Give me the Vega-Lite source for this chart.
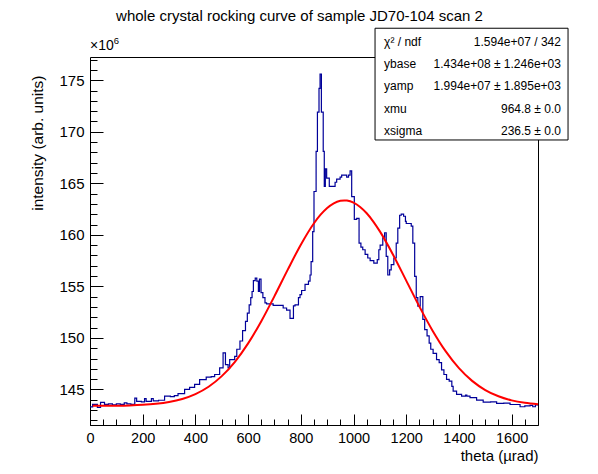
{
  "$schema": "https://vega.github.io/schema/vega-lite/v6.json",
  "autosize": "none",
  "padding": {"left": 90, "top": 57, "right": 60, "bottom": 49},
  "width": 448,
  "height": 368,
  "config": {
    "view": {"stroke": null},
    "font": "Liberation Sans",
    "axis": {"grid": false, "domainColor": "black", "tickColor": "black", "labelColor": "black", "titleColor": "black", "labelFont": "Liberation Sans", "titleFont": "Liberation Sans"}
  },
  "datasets": {
    "hist": [
      {"theta": 0, "intensity": 143.3}, {"theta": 10, "intensity": 143.55}, {"theta": 28, "intensity": 143.25},
      {"theta": 40, "intensity": 143.75}, {"theta": 55, "intensity": 143.55}, {"theta": 70, "intensity": 143.6},
      {"theta": 85, "intensity": 143.5}, {"theta": 100, "intensity": 143.6}, {"theta": 115, "intensity": 143.55},
      {"theta": 130, "intensity": 143.7}, {"theta": 140, "intensity": 143.6}, {"theta": 155, "intensity": 143.55},
      {"theta": 170, "intensity": 144.15}, {"theta": 177, "intensity": 143.85}, {"theta": 195, "intensity": 143.8},
      {"theta": 207, "intensity": 144.1}, {"theta": 213, "intensity": 143.85}, {"theta": 233, "intensity": 144.1},
      {"theta": 240, "intensity": 143.9}, {"theta": 260, "intensity": 143.95}, {"theta": 283, "intensity": 144.35},
      {"theta": 305, "intensity": 144.3}, {"theta": 320, "intensity": 144.4}, {"theta": 334, "intensity": 144.6},
      {"theta": 359, "intensity": 145.0}, {"theta": 378, "intensity": 145.2}, {"theta": 397, "intensity": 145.5},
      {"theta": 416, "intensity": 145.95}, {"theta": 441, "intensity": 146.2}, {"theta": 460, "intensity": 146.25},
      {"theta": 473, "intensity": 146.45}, {"theta": 492, "intensity": 147.1}, {"theta": 505, "intensity": 148.55},
      {"theta": 514, "intensity": 147.4}, {"theta": 524, "intensity": 147.1}, {"theta": 530, "intensity": 147.9},
      {"theta": 549, "intensity": 148.2}, {"theta": 557, "intensity": 148.9}, {"theta": 569, "intensity": 149.7},
      {"theta": 579, "intensity": 150.7}, {"theta": 590, "intensity": 151.6}, {"theta": 597, "intensity": 152.4},
      {"theta": 604, "intensity": 153.2}, {"theta": 610, "intensity": 153.9}, {"theta": 615, "intensity": 154.5},
      {"theta": 620, "intensity": 155.55}, {"theta": 627, "intensity": 155.8}, {"theta": 633, "intensity": 155.5},
      {"theta": 639, "intensity": 154.5}, {"theta": 643, "intensity": 155.7}, {"theta": 649, "intensity": 154.4},
      {"theta": 656, "intensity": 153.9}, {"theta": 664, "intensity": 153.4}, {"theta": 670, "intensity": 153.3},
      {"theta": 695, "intensity": 153.15}, {"theta": 733, "intensity": 152.9}, {"theta": 746, "intensity": 152.7},
      {"theta": 759, "intensity": 151.9}, {"theta": 772, "intensity": 153.1}, {"theta": 778, "intensity": 153.2},
      {"theta": 791, "intensity": 153.9}, {"theta": 797, "intensity": 154.2}, {"theta": 803, "intensity": 154.6},
      {"theta": 816, "intensity": 155.2}, {"theta": 829, "intensity": 155.5}, {"theta": 835, "intensity": 156.1},
      {"theta": 839, "intensity": 157.4}, {"theta": 845, "intensity": 160.3}, {"theta": 850, "intensity": 164.2},
      {"theta": 858, "intensity": 168.1}, {"theta": 863, "intensity": 171.9}, {"theta": 869, "intensity": 174.2},
      {"theta": 873, "intensity": 175.6}, {"theta": 878, "intensity": 171.9}, {"theta": 885, "intensity": 168.1},
      {"theta": 889, "intensity": 164.7}, {"theta": 893, "intensity": 166.4}, {"theta": 898, "intensity": 165.5},
      {"theta": 908, "intensity": 164.7}, {"theta": 930, "intensity": 165.1}, {"theta": 936, "intensity": 165.4},
      {"theta": 949, "intensity": 165.6}, {"theta": 955, "intensity": 165.8}, {"theta": 974, "intensity": 165.6},
      {"theta": 981, "intensity": 165.8}, {"theta": 987, "intensity": 166.2}, {"theta": 993, "intensity": 163.7},
      {"theta": 1003, "intensity": 161.5}, {"theta": 1012, "intensity": 161.6}, {"theta": 1021, "intensity": 159.2},
      {"theta": 1028, "intensity": 158.8}, {"theta": 1035, "intensity": 158.55}, {"theta": 1044, "intensity": 158.1},
      {"theta": 1054, "intensity": 157.75}, {"theta": 1063, "intensity": 157.5}, {"theta": 1077, "intensity": 157.25},
      {"theta": 1090, "intensity": 157.6}, {"theta": 1096, "intensity": 158.55}, {"theta": 1101, "intensity": 159.0},
      {"theta": 1111, "intensity": 159.7}, {"theta": 1118, "intensity": 160.2}, {"theta": 1124, "intensity": 157.9},
      {"theta": 1130, "intensity": 156.1}, {"theta": 1137, "intensity": 156.6}, {"theta": 1143, "intensity": 157.1},
      {"theta": 1153, "intensity": 157.75}, {"theta": 1162, "intensity": 159.2}, {"theta": 1168, "intensity": 160.65},
      {"theta": 1175, "intensity": 161.9}, {"theta": 1181, "intensity": 162.0}, {"theta": 1190, "intensity": 161.8},
      {"theta": 1197, "intensity": 161.3}, {"theta": 1200, "intensity": 161.1}, {"theta": 1219, "intensity": 160.85},
      {"theta": 1225, "intensity": 159.2}, {"theta": 1232, "intensity": 155.97}, {"theta": 1238, "intensity": 153.9},
      {"theta": 1244, "intensity": 153.07}, {"theta": 1253, "intensity": 154.0}, {"theta": 1263, "intensity": 151.8},
      {"theta": 1270, "intensity": 150.8}, {"theta": 1279, "intensity": 150.2}, {"theta": 1287, "intensity": 149.5},
      {"theta": 1293, "intensity": 148.9}, {"theta": 1302, "intensity": 148.5}, {"theta": 1315, "intensity": 147.9},
      {"theta": 1325, "intensity": 147.6}, {"theta": 1334, "intensity": 146.9}, {"theta": 1343, "intensity": 146.45},
      {"theta": 1353, "intensity": 145.97}, {"theta": 1363, "intensity": 145.8}, {"theta": 1373, "intensity": 145.3},
      {"theta": 1378, "intensity": 144.84}, {"theta": 1391, "intensity": 144.52}, {"theta": 1410, "intensity": 144.35},
      {"theta": 1425, "intensity": 144.45}, {"theta": 1430, "intensity": 144.35}, {"theta": 1442, "intensity": 144.2},
      {"theta": 1467, "intensity": 143.97}, {"theta": 1492, "intensity": 143.77}, {"theta": 1520, "intensity": 143.8},
      {"theta": 1543, "intensity": 143.64}, {"theta": 1570, "intensity": 143.68}, {"theta": 1594, "intensity": 143.54},
      {"theta": 1632, "intensity": 143.32}, {"theta": 1650, "intensity": 143.4}, {"theta": 1670, "intensity": 143.45},
      {"theta": 1680, "intensity": 143.32}, {"theta": 1690, "intensity": 143.5}, {"theta": 1700, "intensity": 143.5}
    ],
    "fit": [
      {"theta": 10, "intensity": 143.406}, {"theta": 50, "intensity": 143.411}, {"theta": 100, "intensity": 143.425},
      {"theta": 150, "intensity": 143.453}, {"theta": 200, "intensity": 143.507}, {"theta": 250, "intensity": 143.607},
      {"theta": 300, "intensity": 143.783}, {"theta": 350, "intensity": 144.08}, {"theta": 400, "intensity": 144.552},
      {"theta": 450, "intensity": 145.264}, {"theta": 500, "intensity": 146.292}, {"theta": 550, "intensity": 147.683},
      {"theta": 600, "intensity": 149.468}, {"theta": 650, "intensity": 151.622}, {"theta": 700, "intensity": 154.052},
      {"theta": 750, "intensity": 156.6}, {"theta": 800, "intensity": 159.041}, {"theta": 850, "intensity": 161.125},
      {"theta": 875, "intensity": 161.95}, {"theta": 900, "intensity": 162.606}, {"theta": 925, "intensity": 163.06},
      {"theta": 950, "intensity": 163.301}, {"theta": 965, "intensity": 163.34}, {"theta": 975, "intensity": 163.321},
      {"theta": 1000, "intensity": 163.12}, {"theta": 1025, "intensity": 162.704}, {"theta": 1050, "intensity": 162.088},
      {"theta": 1075, "intensity": 161.288}, {"theta": 1100, "intensity": 160.333}, {"theta": 1150, "intensity": 158.074},
      {"theta": 1200, "intensity": 155.559}, {"theta": 1250, "intensity": 153.037}, {"theta": 1300, "intensity": 150.704},
      {"theta": 1350, "intensity": 148.692}, {"theta": 1400, "intensity": 147.067}, {"theta": 1450, "intensity": 145.831},
      {"theta": 1500, "intensity": 144.941}, {"theta": 1550, "intensity": 144.334}, {"theta": 1600, "intensity": 143.941},
      {"theta": 1650, "intensity": 143.7}, {"theta": 1700, "intensity": 143.559}
    ],
    "box": [{"x1": 1081.6, "x2": 1814, "y1": 180.04, "y2": 169.2}],
    "stats": [
      {"label": "χ² / ndf", "value": "1.594e+07 / 342", "y": 178.7},
      {"label": "ybase", "value": "1.434e+08 ± 1.246e+03", "y": 176.55},
      {"label": "yamp", "value": "1.994e+07 ± 1.895e+03", "y": 174.4},
      {"label": "xmu", "value": "964.8 ± 0.0", "y": 172.25},
      {"label": "xsigma", "value": "236.5 ± 0.0", "y": 170.1}
    ]
  },
  "layer": [
    {
      "data": {"name": "hist"},
      "mark": {"type": "line", "interpolate": "step-after", "color": "#000099", "strokeWidth": 1.2},
      "encoding": {
        "x": {
          "field": "theta", "type": "quantitative",
          "scale": {"domain": [0, 1700], "nice": false, "zero": false},
          "axis": {
            "orient": "bottom", "values": [0, 200, 400, 600, 800, 1000, 1200, 1400, 1600], "format": "d",
            "tickSize": -11, "labelPadding": 17, "domain": true, "labelFontSize": 14.5, "labelFlush": false, "labelOverlap": false,
            "title": "theta (µrad)", "titleX": 448, "titleY": 35, "titleAlign": "right", "titleAnchor": "end",
            "titleBaseline": "alphabetic", "titleFontSize": 15, "titleFontWeight": "normal"
          }
        },
        "y": {
          "field": "intensity", "type": "quantitative",
          "scale": {"domain": [141.55, 177.25], "nice": false, "zero": false},
          "axis": {
            "orient": "left", "values": [145, 150, 155, 160, 165, 170, 175], "format": "d",
            "tickSize": -13, "labelPadding": 19, "domain": true, "labelFontSize": 15, "labelFlush": false, "labelOverlap": false,
            "title": "intensity (arb. units)", "titleX": -53, "titleY": 18, "titleAngle": -90, "titleAlign": "right",
            "titleAnchor": "end", "titleBaseline": "middle", "titleFontSize": 15.5, "titleFontWeight": "normal"
          }
        }
      }
    },
    {
      "data": {"name": "fit"},
      "mark": {"type": "line", "interpolate": "monotone", "color": "#ff0000", "strokeWidth": 2},
      "encoding": {
        "x": {
          "field": "theta", "type": "quantitative",
          "scale": {"domain": [0, 1700], "nice": false, "zero": false},
          "axis": {
            "orient": "bottom",
            "values": [0, 50, 100, 150, 200, 250, 300, 350, 400, 450, 500, 550, 600, 650, 700, 750, 800, 850, 900, 950, 1000, 1050, 1100, 1150, 1200, 1250, 1300, 1350, 1400, 1450, 1500, 1550, 1600, 1650, 1700],
            "tickSize": -6, "labels": false, "domain": false, "title": null
          }
        },
        "y": {
          "field": "intensity", "type": "quantitative",
          "scale": {"domain": [141.55, 177.25], "nice": false, "zero": false},
          "axis": {
            "orient": "left",
            "values": [142, 143, 144, 145, 146, 147, 148, 149, 150, 151, 152, 153, 154, 155, 156, 157, 158, 159, 160, 161, 162, 163, 164, 165, 166, 167, 168, 169, 170, 171, 172, 173, 174, 175, 176, 177],
            "tickSize": -7, "labels": false, "domain": false, "title": null
          }
        }
      }
    },
    {
      "data": {"name": "box"},
      "mark": {"type": "rect", "fill": "white", "stroke": "black", "strokeWidth": 1},
      "encoding": {
        "x": {"field": "x1", "type": "quantitative", "scale": {"domain": [0, 1700], "nice": false, "zero": false},
          "axis": {"orient": "top", "ticks": false, "labels": false, "domain": true, "title": null}},
        "x2": {"field": "x2"},
        "y": {"field": "y1", "type": "quantitative", "scale": {"domain": [141.55, 177.25], "nice": false, "zero": false},
          "axis": {"orient": "right", "ticks": false, "labels": false, "domain": true, "title": null}},
        "y2": {"field": "y2"}
      }
    },
    {
      "data": {"name": "stats"},
      "mark": {"type": "text", "align": "left", "baseline": "middle", "fontSize": 12, "color": "black"},
      "encoding": {
        "x": {"datum": 1116, "type": "quantitative", "axis": null},
        "y": {"field": "y", "type": "quantitative", "axis": null},
        "text": {"field": "label"}
      }
    },
    {
      "data": {"name": "stats"},
      "mark": {"type": "text", "align": "right", "baseline": "middle", "fontSize": 12, "color": "black"},
      "encoding": {
        "x": {"datum": 1787, "type": "quantitative", "axis": null},
        "y": {"field": "y", "type": "quantitative", "axis": null},
        "text": {"field": "value"}
      }
    },
    {
      "data": {"values": [{"t": "whole crystal rocking curve of sample JD70-104 scan 2"}]},
      "mark": {"type": "text", "align": "center", "baseline": "middle", "fontSize": 15, "color": "black"},
      "encoding": {
        "x": {"datum": 795, "type": "quantitative", "axis": null},
        "y": {"datum": 181.2, "type": "quantitative", "axis": null},
        "text": {"field": "t"}
      }
    },
    {
      "data": {"values": [{"t": "×10"}]},
      "mark": {"type": "text", "align": "left", "baseline": "middle", "fontSize": 14, "color": "black"},
      "encoding": {
        "x": {"datum": 0, "type": "quantitative", "axis": null},
        "y": {"datum": 178.27, "type": "quantitative", "axis": null},
        "text": {"field": "t"}
      }
    },
    {
      "data": {"values": [{"t": "6"}]},
      "mark": {"type": "text", "align": "left", "baseline": "middle", "fontSize": 9.5, "color": "black"},
      "encoding": {
        "x": {"datum": 90, "type": "quantitative", "axis": null},
        "y": {"datum": 178.8, "type": "quantitative", "axis": null},
        "text": {"field": "t"}
      }
    }
  ],
  "resolve": {"axis": {"x": "independent", "y": "independent"}}
}
